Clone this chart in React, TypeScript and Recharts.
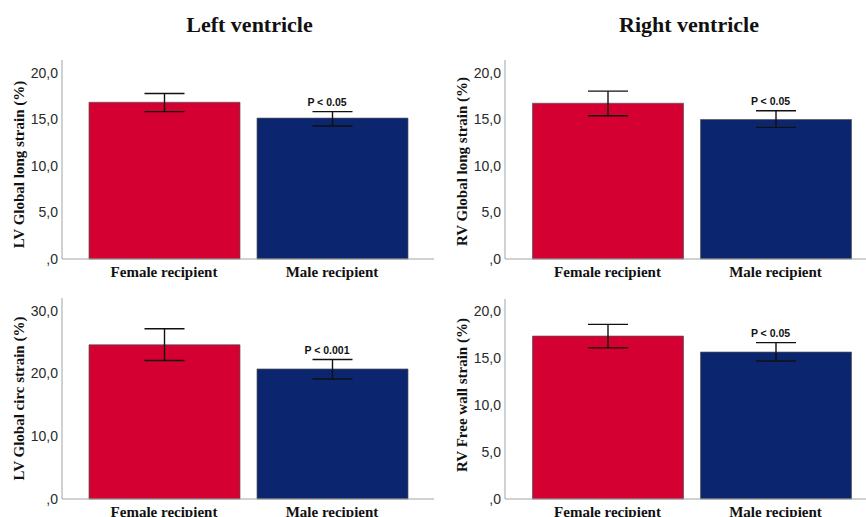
import React from "react";
import { BarChart, Bar, XAxis, YAxis, ErrorBar, ReferenceDot, Cell } from "recharts";

// group names on the x axis
const groups = ["Female recipient", "Male recipient"];
const barColors = ["#d40032", "#0b266f"];

// means and 95% CI
const lvGlsMean = [16.85, 15.15];
const lvGlsLow = [15.85, 14.3];
const lvGlsHigh = [17.8, 15.85];

const rvGlsMean = [16.75, 15.0];
const rvGlsLow = [15.4, 14.15];
const rvGlsHigh = [18.05, 15.95];

const lvGcsMean = [24.55, 20.7];
const lvGcsLow = [22.05, 19.1];
const lvGcsHigh = [27.1, 22.2];

const rvFwsMean = [17.35, 15.65];
const rvFwsLow = [16.1, 14.7];
const rvFwsHigh = [18.6, 16.65];

const ticks20 = [0, 5, 10, 15, 20];
const ticks30 = [0, 10, 20, 30];

const serif = "'Liberation Serif', 'Times New Roman', serif";
const sans = "'Liberation Sans', Arial, sans-serif";
const axisGray = "#a3a3a3";

const fmt = (v: number) => (v === 0 ? ",0" : v.toFixed(1).replace(".", ","));

function buildRows(mean: number[], low: number[], high: number[]) {
  return groups.map((g, i) => ({
    group: g,
    mean: mean[i],
    err: [mean[i] - low[i], high[i] - mean[i]],
    high: high[i],
  }));
}

type PanelProps = {
  left: number;
  top: number;
  width: number;
  yAxisWidth: number;
  marginTop: number;
  marginRight: number;
  padLeft: number;
  padRight: number;
  domainMax: number;
  ticks: number[];
  yLabel: string;
  labelX: number;
  labelDy: number;
  pText: string;
  mean: number[];
  low: number[];
  high: number[];
};

function Panel(p: PanelProps) {
  const rows = buildRows(p.mean, p.low, p.high);
  const height = 250;
  return (
    <div style={{ position: "absolute", left: p.left, top: p.top }}>
      <BarChart
        width={p.width}
        height={height}
        data={rows}
        margin={{ top: p.marginTop, right: p.marginRight, bottom: 0, left: 0 }}
      >
        <XAxis
          dataKey="group"
          height={31}
          padding={{ left: p.padLeft, right: p.padRight }}
          axisLine={{ stroke: axisGray }}
          tickLine={false}
          tickSize={0}
          tickMargin={7}
          tick={{ fontFamily: serif, fontSize: 15, fontWeight: "bold", fill: "#111" }}
        />
        <YAxis
          width={p.yAxisWidth}
          domain={[0, p.domainMax]}
          ticks={p.ticks}
          tickFormatter={fmt}
          axisLine={{ stroke: axisGray }}
          tickLine={false}
          tickSize={0}
          tickMargin={4}
          tick={{ fontFamily: sans, fontSize: 14, fill: "#2a2a2a" }}
          label={(props: any) => {
            const vb = props.viewBox;
            const cx = p.labelX;
            const cy = vb.y + vb.height / 2 + p.labelDy;
            return (
              <text
                x={cx}
                y={cy}
                transform={`rotate(-90 ${cx} ${cy})`}
                textAnchor="middle"
                dominantBaseline="central"
                fontFamily={serif}
                fontSize={15}
                fontWeight="bold"
                fill="#111"
              >
                {p.yLabel}
              </text>
            );
          }}
        />
        <Bar dataKey="mean" barSize={151} stroke="#555" strokeWidth={0.7} isAnimationActive={false}>
          {rows.map((r, i) => (
            <Cell key={r.group} fill={barColors[i]} />
          ))}
          <ErrorBar dataKey="err" direction="y" width={20} stroke="#111" strokeWidth={1.4} />
        </Bar>
        <ReferenceDot
          x={groups[1]}
          y={p.high[1]}
          r={1}
          fill="none"
          stroke="none"
          label={(props: any) => {
            const vb = props.viewBox;
            const cx = vb.x + (vb.width || 0) / 2 - 5;
            const cy = vb.y + (vb.height || 0) / 2;
            return (
              <text
                x={cx}
                y={cy - 6}
                textAnchor="middle"
                fontFamily={sans}
                fontSize={10.5}
                fontWeight="bold"
                fill="#111"
              >
                {p.pText}
              </text>
            );
          }}
        />
      </BarChart>
    </div>
  );
}

export default function App() {
  return (
    <div
      style={{
        position: "absolute",
        left: 0,
        top: 0,
        width: 866,
        height: 517,
        overflow: "hidden",
        background: "#fff",
      }}
    >
      <div
        style={{
          position: "absolute",
          left: 0,
          top: 0,
          width: 499,
          textAlign: "center",
          fontFamily: serif,
          fontWeight: "bold",
          fontSize: 22,
          lineHeight: "22px",
          paddingTop: 14,
          color: "#111",
        }}
      >
        Left ventricle
      </div>
      <div
        style={{
          position: "absolute",
          left: 512,
          top: 0,
          width: 354,
          textAlign: "center",
          fontFamily: serif,
          fontWeight: "bold",
          fontSize: 22,
          lineHeight: "22px",
          paddingTop: 14,
          color: "#111",
        }}
      >
        Right ventricle
      </div>

      <Panel
        left={0}
        top={40}
        width={440}
        yAxisWidth={62}
        marginTop={20}
        marginRight={6}
        padLeft={18}
        padRight={18}
        domainMax={21.4}
        ticks={ticks20}
        yLabel="LV Global long strain (%)"
        labelX={18.5}
        labelDy={5}
        pText="P < 0.05"
        mean={lvGlsMean}
        low={lvGlsLow}
        high={lvGlsHigh}
      />
      <Panel
        left={440}
        top={40}
        width={426}
        yAxisWidth={65}
        marginTop={20}
        marginRight={0}
        padLeft={18.5}
        padRight={6.5}
        domainMax={21.4}
        ticks={ticks20}
        yLabel="RV Global long strain (%)"
        labelX={21.7}
        labelDy={2}
        pText="P < 0.05"
        mean={rvGlsMean}
        low={rvGlsLow}
        high={rvGlsHigh}
      />
      <Panel
        left={0}
        top={280}
        width={440}
        yAxisWidth={62}
        marginTop={18}
        marginRight={6}
        padLeft={18}
        padRight={18}
        domainMax={32}
        ticks={ticks30}
        yLabel="LV Global circ strain (%)"
        labelX={18.5}
        labelDy={0}
        pText="P < 0.001"
        mean={lvGcsMean}
        low={lvGcsLow}
        high={lvGcsHigh}
      />
      <Panel
        left={440}
        top={280}
        width={426}
        yAxisWidth={65}
        marginTop={19}
        marginRight={0}
        padLeft={18.5}
        padRight={6.5}
        domainMax={21.3}
        ticks={ticks20}
        yLabel="RV Free wall strain (%)"
        labelX={21.7}
        labelDy={-4}
        pText="P < 0.05"
        mean={rvFwsMean}
        low={rvFwsLow}
        high={rvFwsHigh}
      />
    </div>
  );
}
